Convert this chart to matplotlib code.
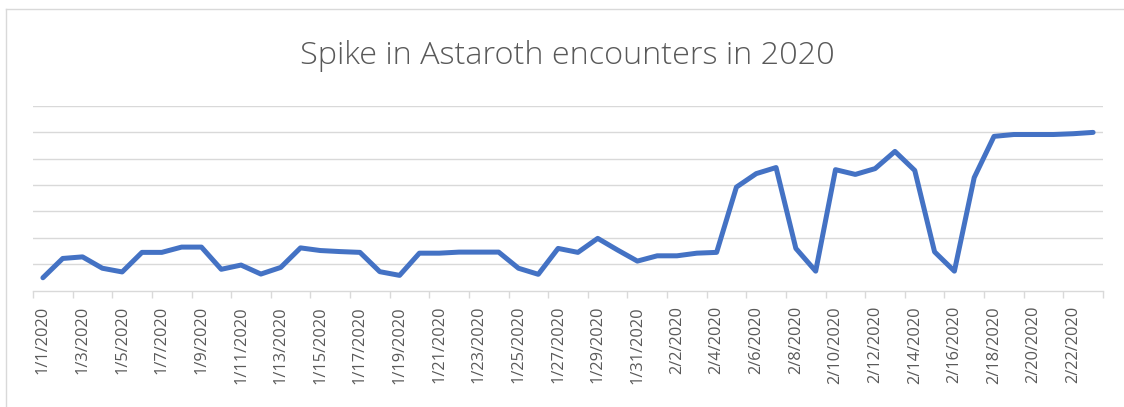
import matplotlib
matplotlib.use("Agg")
import matplotlib.pyplot as plt
from matplotlib.lines import Line2D
import numpy as np

dates = [f"1/{d}/2020" for d in range(1, 32)] + [f"2/{d}/2020" for d in range(1, 24)]
values = [4.9, 12.2, 12.8, 8.5, 7.1, 14.5, 14.5, 16.5, 16.5, 8.1,
          9.7, 6.3, 8.8, 16.2, 15.2, 14.8, 14.5, 7.2, 5.8, 14.2,
          14.2, 14.6, 14.6, 14.6, 8.5, 6.2, 16.0, 14.5, 19.8, 15.4,
          11.2, 13.2, 13.2, 14.2, 14.5, 39.2, 44.3, 46.6, 16.0, 7.4,
          45.8, 44.0, 46.2, 52.7, 45.5, 14.7, 7.4, 42.8, 58.4, 59.1,
          59.1, 59.1, 59.4, 59.9]
title = "Spike in Astaroth encounters in 2020"
gridlines = [10, 20, 30, 40, 50, 60, 70]

W, H = 1124, 407
fig = plt.figure(figsize=(W / 100, H / 100), dpi=100)
ax = fig.add_axes([33 / W, 1 - 290.7 / H, (1103 - 33) / W, (290.7 - 105.7) / H])

x = np.arange(len(values))
for g in gridlines:
    ax.axhline(g, color="#D9D9D9", lw=1.0, zorder=1)
ax.plot(x, values, color="#4472C4", lw=3.6, solid_joinstyle="round",
        solid_capstyle="round", zorder=3, clip_on=False)

ax.set_xlim(-0.5, len(values) - 0.5)
ax.set_ylim(0, 70)
for s in ["top", "right", "left"]:
    ax.spines[s].set_visible(False)
ax.spines["bottom"].set_color("#D9D9D9")
ax.spines["bottom"].set_linewidth(1.0)
ax.set_yticks([])

ax.set_xticks(x[::2])
ax.set_xticklabels(dates[::2], rotation=90, fontsize=11.8, color="#595959",
                   family=["Open Sans", "DejaVu Sans"])
ax.set_xticks(np.arange(-0.5, len(values), 2), minor=True)
ax.tick_params(axis="x", which="major", length=0, pad=11)
ax.tick_params(axis="x", which="minor", length=5, color="#D9D9D9", width=1.0)

fig.text(0.505, 1 - 56 / H, title, ha="center", va="center", fontsize=23.3,
         color="#595959", family=["Open Sans", "DejaVu Sans"], fontweight="light")

# chart border (left and top edges visible)
fig.add_artist(Line2D([5.5 / W, 5.5 / W], [0, 1 - 9 / H], color="#D9D9D9", lw=1.0))
fig.add_artist(Line2D([5.5 / W, 1], [1 - 9 / H, 1 - 9 / H], color="#D9D9D9", lw=1.0))

fig.savefig("out.png", dpi=100)
